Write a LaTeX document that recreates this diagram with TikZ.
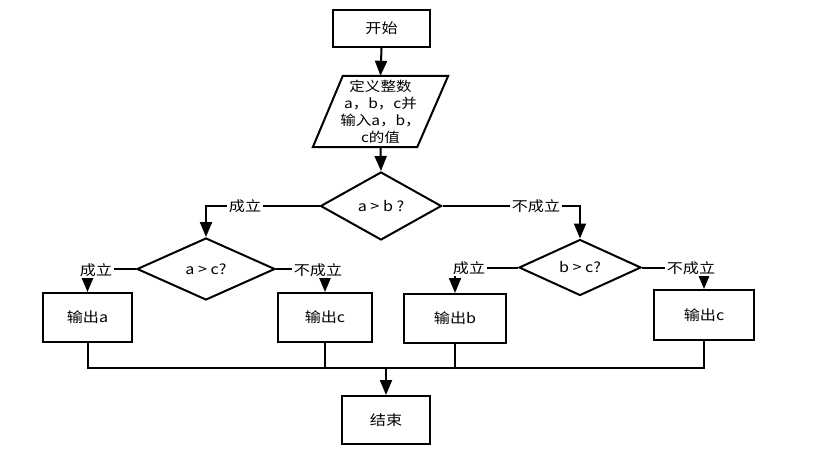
\documentclass[tikz,border=0pt]{standalone}
\usepackage{fontspec}
\setmainfont[FakeStretch=1.15]{Noto Sans CJK SC}
\usetikzlibrary{shapes.geometric,arrows.meta,calc}
\begin{document}
\begin{tikzpicture}[x=1pt,y=-1pt,
  font=\fontsize{14}{19}\selectfont,
  box/.style={draw, line width=2, inner sep=0, minimum width=#1},
  dec/.style={diamond, draw, line width=2, inner sep=0},
  arr/.style={line width=2, -{Triangle[length=15,width=12]}},
  ln/.style={line width=2},
  lbl/.style={fill=white, inner sep=1.5}]
\useasboundingbox (0,0) rectangle (819,450);
% nodes
\node[box=97, minimum height=37] (start) at (381.5,28.5) {开始};
\node[inner sep=0, minimum width=104, minimum height=71, align=center,
  font=\fontsize{13.5}{17}\selectfont] (input) at (380.5,111.5)
  {定义整数\\a，b，c并\\输入a，b，\\c的值};
\draw[ln, line join=miter] ($(input.north west)+(14.5,0)$) -- ($(input.north east)+(15.5,0)$)
  -- ($(input.south east)+(-15.5,0)$) -- ($(input.south west)+(-15.5,0)$) -- cycle;
\node[dec, minimum width=121, minimum height=68] (d1) at (381,206) {a > b ?};
\node[dec, minimum width=138, minimum height=62] (d2) at (206,269) {a > c?};
\node[dec, minimum width=122, minimum height=56] (d3) at (580,267.5) {b > c?};
\node[box=89, minimum height=49] (outA) at (87.5,317.5) {输出a};
\node[box=94, minimum height=49] (outC1) at (325,317.5) {输出c};
\node[box=102, minimum height=49] (outB) at (455,318.5) {输出b};
\node[box=100, minimum height=50] (outC2) at (704,315) {输出c};
\node[box=88, minimum height=48] (end) at (386,420) {结束};
\coordinate (m) at (386,368);
% connectors
\draw[arr] (start.south) -- (input.north);
\draw[arr] (input.south) -- (d1.north);
\draw[arr] (d1.west) -| (d2.north);
\draw[arr] (d1.east) -| (d3.north);
\draw[arr] (d2.west) -| (outA.north);
\draw[arr] (d2.east) -| (outC1.north);
\draw[arr] (d3.west) -| (outB.north);
\draw[arr] (d3.east) -| (outC2.north);
\draw[ln] (outA.south) |- (m);
\draw[ln] (outC1.south) |- (m);
\draw[ln] (outB.south) |- (m);
\draw[ln] (outC2.south) |- (m);
\draw[arr] (m) -- (end.north);
% labels
\node[lbl] (l1) at (245,206) {成立};
\node[lbl] (l2) at (536,206) {不成立};
\node[lbl] (l3) at (96,270) {成立};
\node[lbl] (l4) at (318,270) {不成立};
\node[lbl] (l5) at (469,268) {成立};
\node[lbl] (l6) at (691,268) {不成立};
\end{tikzpicture}
\end{document}
